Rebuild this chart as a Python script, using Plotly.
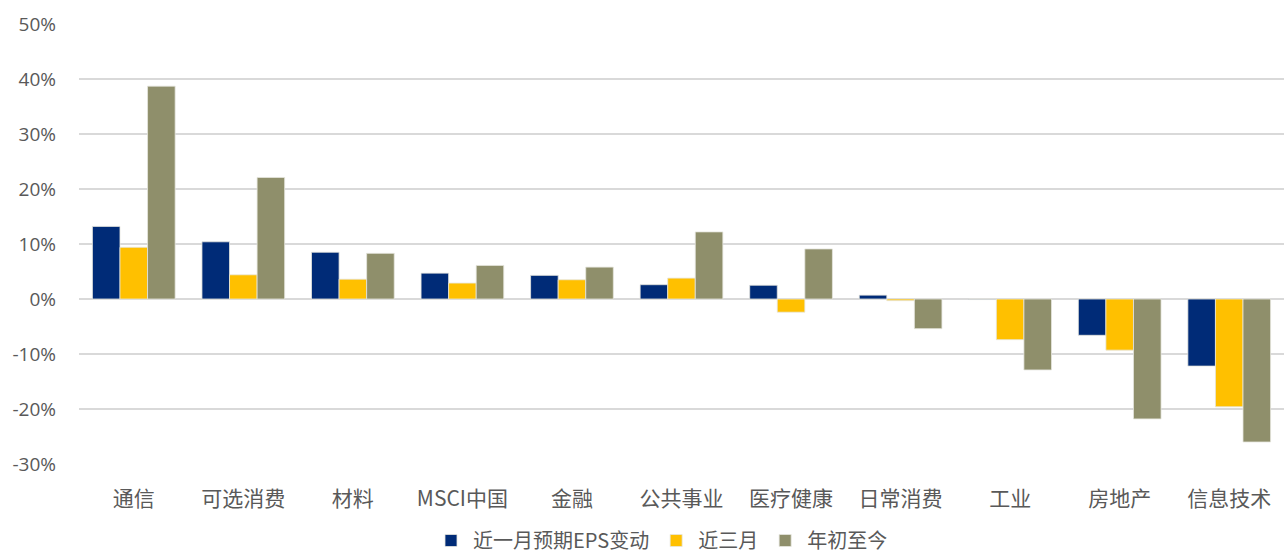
import plotly.graph_objects as go

categories = ["通信", "可选消费", "材料", "MSCI中国", "金融", "公共事业",
              "医疗健康", "日常消费", "工业", "房地产", "信息技术"]
eps_1m = [0.132, 0.104, 0.085, 0.047, 0.043, 0.026, 0.025, 0.007, -0.001, -0.066, -0.122]
eps_3m = [0.094, 0.044, 0.036, 0.029, 0.035, 0.038, -0.024, -0.003, -0.074, -0.093, -0.196]
eps_ytd = [0.387, 0.221, 0.083, 0.061, 0.058, 0.122, 0.091, -0.054, -0.129, -0.218, -0.260]
tick_vals = [-0.3, -0.2, -0.1, 0.0, 0.1, 0.2, 0.3, 0.4, 0.5]
tick_text = ["-30%", "-20%", "-10%", "0%", "10%", "20%", "30%", "40%", "50%"]

series = [
    ("近一月预期EPS变动", eps_1m, "#002B77"),
    ("近三月", eps_3m, "#FFC000"),
    ("年初至今", eps_ytd, "#8F8F6B"),
]

fig = go.Figure()
for name, vals, color in series:
    fig.add_trace(go.Bar(
        x=categories, y=vals, name=name,
        marker=dict(color=color, line=dict(color="#E6E6DE", width=0.8)),
    ))

cjk = "Noto Sans CJK SC"
fig.update_layout(
    width=1284, height=560,
    margin=dict(l=79, r=0, t=24, b=96, autoexpand=False),
    paper_bgcolor="white", plot_bgcolor="white",
    barmode="group", bargap=0.245, bargroupgap=0,
    font=dict(family=cjk, color="#595959"),
    legend=dict(
        orientation="h", x=0.483, xanchor="center",
        yref="container", y=0.0, yanchor="bottom",
        font=dict(family=cjk, size=20, color="#595959"),
        itemwidth=34, tracegroupgap=0,
    ),
    xaxis=dict(
        showgrid=False, showline=False, zeroline=False, ticks="",
        tickfont=dict(family=cjk, size=21, color="#595959"),
        ticklabelstandoff=20,
    ),
    yaxis=dict(
        range=[-0.3, 0.5], tickvals=tick_vals, ticktext=tick_text,
        showgrid=True, gridcolor="#D9D9D9", gridwidth=1.5,
        zeroline=True, zerolinecolor="#D9D9D9", zerolinewidth=1.5,
        showline=False, ticks="",
        tickfont=dict(family="Open Sans", size=19, color="#595959"),
        ticklabelstandoff=22,
    ),
)

fig.write_html("out.html")
